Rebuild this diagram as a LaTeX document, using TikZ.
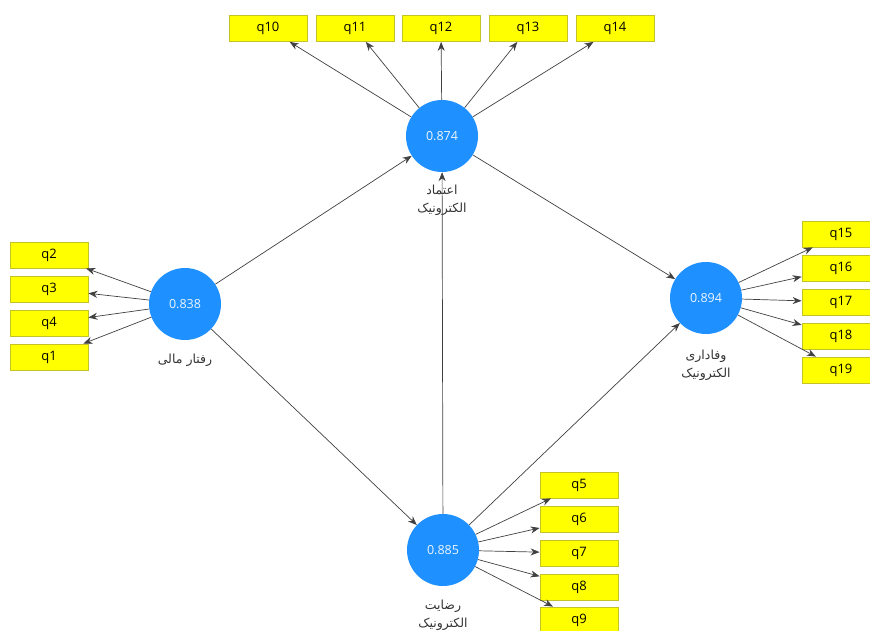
\documentclass[tikz,border=0pt]{standalone}
\usepackage{fontspec}
\setmainfont{Open Sans}
\newfontfamily\farsi[Script=Arabic]{DejaVu Sans}
\TeXXeTstate=1
\usetikzlibrary{arrows.meta}
\definecolor{lvblue}{RGB}{30,144,255}
\definecolor{mvyellow}{RGB}{255,255,0}
\definecolor{mvborder}{RGB}{196,196,40}
\tikzset{
	latent/.style={circle, fill=lvblue, minimum size=72pt, inner sep=0pt, text=white!92!lvblue, font=\fontsize{12.5}{14}\selectfont},
	manifest/.style={rectangle, fill=mvyellow, draw=mvborder, line width=0.8pt, minimum width=78pt, minimum height=26pt, inner sep=0pt, font=\fontsize{13}{15}\selectfont},
	link/.style={draw=black!75, line width=0.7pt, -{Stealth[length=9pt,width=7pt]}},
	caption/.style={font=\farsi\fontsize{12.5}{18}\selectfont, text=black!80, align=center}
}

\begin{document}
\begin{tikzpicture}[x=1pt, y=-1pt]
	\useasboundingbox (0, 0) rectangle (870, 631);
	% Latent variables:
	\node[latent] (trust) at (442, 136){0.874};
	\node[latent] (finance) at (185, 304){0.838};
	\node[latent] (loyalty) at (706, 298){0.894};
	\node[latent] (satisf) at (443, 550){0.885};
	\node[caption] (trustlbl) at (442, 200){\beginR اعتماد\endR\\\beginR الکترونیک\endR};
	\node[caption] (financelbl) at (185, 360){\beginR رفتار مالی\endR};
	\node[caption] (loyaltylbl) at (706, 365){\beginR وفاداری\endR\\\beginR الکترونیک\endR};
	\node[caption] (satisflbl) at (443, 615){\beginR رضایت\endR\\\beginR الکترونیک\endR};
	% Indicators:
	\foreach \n/\x in {10/268, 11/355, 12/441, 13/528, 14/615}
		\node[manifest] (q\n) at (\x, 28.5){q\n};
	\foreach \n/\y in {2/255, 3/289, 4/323, 1/357}
		\node[manifest] (q\n) at (49, \y){q\n};
	\foreach \n/\y in {15/234, 16/268, 17/302, 18/336, 19/370}
		\node[manifest] (q\n) at (841, \y){q\n};
	\foreach \n/\y in {5/485, 6/519, 7/553, 8/587, 9/620}
		\node[manifest] (q\n) at (579, \y){q\n};
	% Outer loadings:
	\foreach \n in {10, 11, 12, 13, 14}
		\draw[link] (trust) -- (q\n);
	\foreach \n in {2, 3, 4, 1}
		\draw[link] (finance) -- (q\n);
	\foreach \n in {15, 16, 17, 18, 19}
		\draw[link] (loyalty) -- (q\n);
	\foreach \n in {5, 6, 7, 8, 9}
		\draw[link] (satisf) -- (q\n);
	% Paths:
	\draw[link] (finance) -- (trust);
	\draw[link] (finance) -- (satisf);
	\draw[link] (satisf) -- (trust);
	\draw[link] (trust) -- (loyalty);
	\draw[link] (satisf) -- (loyalty);
\end{tikzpicture}
\end{document}
